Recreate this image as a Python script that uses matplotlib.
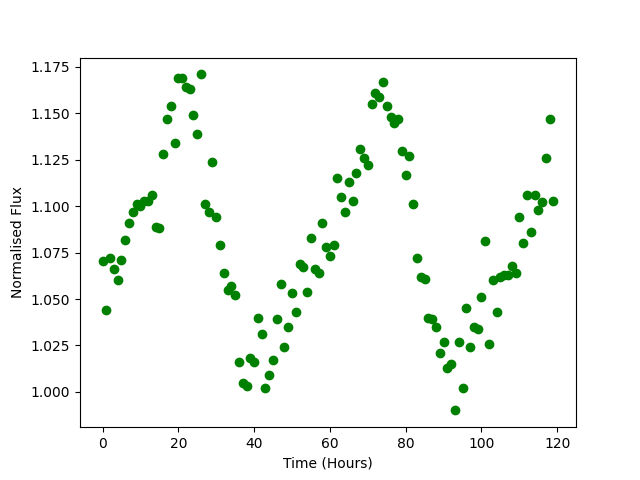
import matplotlib
matplotlib.use("Agg")
import matplotlib.pyplot as plt
import numpy as np

time_hours = list(range(120))
flux = [
    1.0705, 1.044, 1.072, 1.066, 1.060, 1.071, 1.082, 1.091, 1.097, 1.101,
    1.100, 1.103, 1.103, 1.106, 1.089, 1.088, 1.128, 1.147, 1.154, 1.134,
    1.169, 1.169, 1.164, 1.163, 1.149, 1.139, 1.171, 1.101, 1.097, 1.124,
    1.094, 1.079, 1.064, 1.055, 1.057, 1.052, 1.016, 1.005, 1.003, 1.018,
    1.016, 1.040, 1.031, 1.002, 1.009, 1.017, 1.039, 1.058, 1.024, 1.035,
    1.053, 1.043, 1.069, 1.067, 1.054, 1.083, 1.066, 1.064, 1.091, 1.078,
    1.073, 1.079, 1.115, 1.105, 1.097, 1.113, 1.103, 1.118, 1.131, 1.126,
    1.122, 1.155, 1.161, 1.159, 1.167, 1.154, 1.148, 1.145, 1.147, 1.130,
    1.117, 1.127, 1.101, 1.072, 1.062, 1.061, 1.040, 1.039, 1.035, 1.021,
    1.027, 1.013, 1.015, 0.990, 1.027, 1.002, 1.045, 1.024, 1.035, 1.034,
    1.051, 1.081, 1.026, 1.060, 1.043, 1.062, 1.063, 1.063, 1.068, 1.064,
    1.094, 1.080, 1.106, 1.086, 1.106, 1.098, 1.102, 1.126, 1.147, 1.103,
]

fig, ax = plt.subplots(figsize=(6.4, 4.8), dpi=100)
ax.plot(time_hours, flux, 'o', color='green')
ax.set_xlabel("Time (Hours)")
ax.set_ylabel("Normalised Flux")
fig.savefig("out.png")
